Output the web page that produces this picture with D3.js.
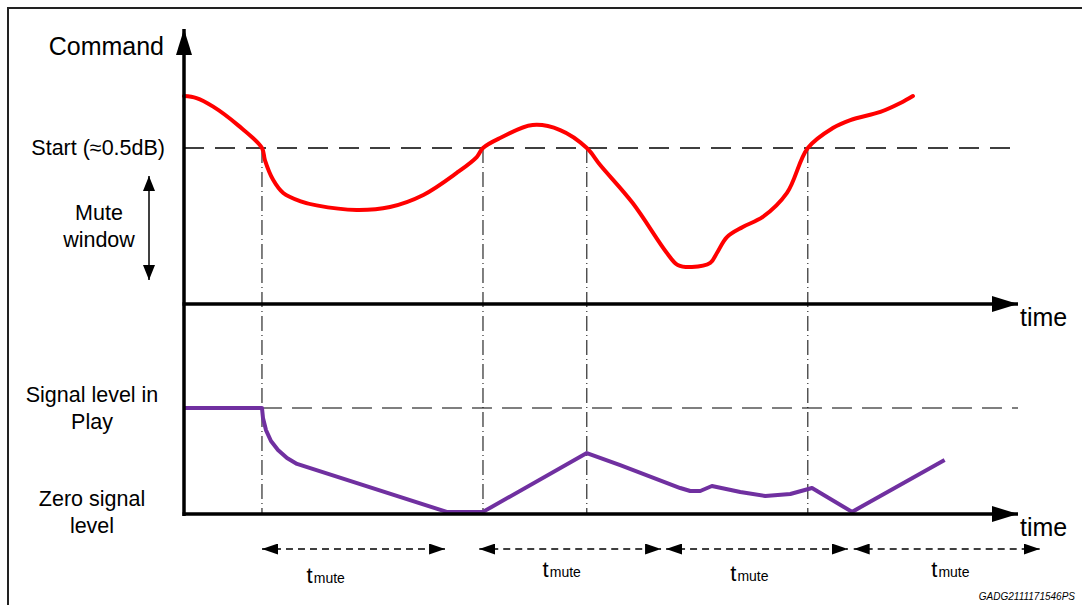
<!DOCTYPE html>
<html>
<head>
<meta charset="utf-8">
<script src="https://cdn.jsdelivr.net/npm/d3@7"></script>
<style>
  body { margin: 0; background: #fff; }
  svg text { font-family: "Liberation Sans", Arial, sans-serif; fill: #000; }
</style>
</head>
<body>
<svg class="timing" width="1082" height="605"></svg>
<script>
// command curve (red), time in % of axis, level relative to the start threshold
var cmdTime = [0, 1.5, 3.5, 6.5, 9.35, 9.7, 10.7, 11.9, 13.9, 15.9, 20.7, 24.7, 28.7, 32.7, 35.1, 35.85,
               37.9, 41.8, 45.1, 48.3, 49.9, 53.8, 57.9, 59.2, 60.9, 63.1, 63.9, 65.1, 67.0, 69.4, 72.3,
               74.8, 77.8, 79.9, 83.5, 85.9, 87.4];
var cmdLevel = [1.333, 1.32, 1.265, 1.145, 1.0, 0.923, 0.795, 0.712, 0.66, 0.632, 0.603, 0.622, 0.699, 0.84, 0.942, 1.0,
                1.064, 1.147, 1.115, 1.0, 0.891, 0.647, 0.327, 0.25, 0.237, 0.263, 0.327, 0.429, 0.494, 0.558, 0.712,
                1.0, 1.128, 1.179, 1.231, 1.288, 1.333];

// output signal (purple), 1 = play level, 0 = zero signal
var sigTime = [0, 9.35, 9.47, 9.83, 10.43, 11.27, 12.35, 13.55, 31.5, 35.85, 48.3, 52.3, 59.5, 60.7, 61.9, 63.3,
               66.7, 69.7, 72.7, 75.3, 80.1, 91.2];
var sigLevel = [1.0, 1.0, 0.906, 0.792, 0.689, 0.604, 0.528, 0.472, 0.02, 0.02, 0.575, 0.462, 0.245, 0.217, 0.217, 0.264,
                0.208, 0.17, 0.189, 0.245, 0.02, 0.509];

// instants where the command crosses the start threshold
var crossings = [9.35, 35.85, 48.3, 74.8];
// tmute windows
var muteStart = [9.35, 35.4, 57.8, 80.3];
var muteEnd = [31.3, 57.2, 79.6, 102.6];
var muteLabelX = [14.7, 43.0, 65.5, 89.6];
var muteLabelY = [-0.65, -0.59, -0.63, -0.59];

(function timingDiagram() {
    var svg = d3.select("svg.timing");

    var x = d3.scaleLinear().domain([0, 100]).range([184, 1018]);
    var yCmd = d3.scaleLinear().domain([0, 1]).range([304, 148]);
    var ySig = d3.scaleLinear().domain([0, 1]).range([514, 408]);

    // frame
    svg.append("path")
        .attr("d", "M8,605 V8 H1082")
        .attr("fill", "none")
        .attr("stroke", "#222")
        .attr("stroke-width", 2);

    var defs = svg.append("defs");
    function marker(id, w, h, color) {
        defs.append("marker")
            .attr("id", id)
            .attr("viewBox", "0 0 " + w + " " + h)
            .attr("refX", w).attr("refY", h / 2)
            .attr("markerWidth", w).attr("markerHeight", h)
            .attr("markerUnits", "userSpaceOnUse")
            .attr("orient", "auto-start-reverse")
            .append("path")
            .attr("d", "M0,0 L" + w + "," + (h / 2) + " L0," + h + "Z")
            .attr("fill", color);
    }
    marker("axisHead", 26, 16, "#000");
    marker("smallHead", 15, 12, "#000");
    marker("spanHead", 16, 11, "#000");

    // threshold lines
    svg.append("line")
        .attr("x1", x(0)).attr("x2", x(100))
        .attr("y1", yCmd(1)).attr("y2", yCmd(1))
        .attr("stroke", "#000").attr("stroke-width", 1.3)
        .attr("stroke-dasharray", "20,11");
    svg.append("line")
        .attr("x1", x(crossings[0])).attr("x2", x(100))
        .attr("y1", ySig(1)).attr("y2", ySig(1))
        .attr("stroke", "#000").attr("stroke-width", 1.2)
        .attr("stroke-dasharray", "20,10");

    // dash-dot verticals
    svg.selectAll(".cross")
        .data(crossings)
        .enter()
        .append("line")
        .attr("class", "cross")
        .attr("x1", function(d) { return x(d); })
        .attr("x2", function(d) { return x(d); })
        .attr("y1", yCmd(1))
        .attr("y2", ySig(0))
        .attr("stroke", "#000")
        .attr("stroke-width", 1)
        .attr("stroke-dasharray", "15,4,1,4");

    // curves
    var cmdLine = d3.line()
        .x(function(d, i) { return x(cmdTime[i]); })
        .y(function(d) { return yCmd(d); })
        .curve(d3.curveCatmullRom.alpha(0.5));
    svg.append("path")
        .attr("d", cmdLine(cmdLevel))
        .attr("fill", "none")
        .attr("stroke", "#ff0000")
        .attr("stroke-width", 4)
        .attr("stroke-linecap", "round");

    var sigLine = d3.line()
        .x(function(d, i) { return x(sigTime[i]); })
        .y(function(d) { return ySig(d); });
    svg.append("path")
        .attr("d", sigLine(sigLevel))
        .attr("fill", "none")
        .attr("stroke", "#7030a0")
        .attr("stroke-width", 4)
        .attr("stroke-linejoin", "round");

    // axes
    svg.append("line")
        .attr("x1", x(0)).attr("x2", x(0))
        .attr("y1", ySig(0) + 2).attr("y2", 29)
        .attr("stroke", "#000").attr("stroke-width", 3.5)
        .attr("marker-end", "url(#axisHead)");
    [yCmd(0), ySig(0)].forEach(function(yy) {
        svg.append("line")
            .attr("x1", x(0) - 1.5).attr("x2", x(100))
            .attr("y1", yy).attr("y2", yy)
            .attr("stroke", "#000").attr("stroke-width", 3.5)
            .attr("marker-end", "url(#axisHead)");
        svg.append("text")
            .attr("x", x(100) + 2)
            .attr("y", yy + 22)
            .style("font-size", "25px")
            .text("time");
    });

    svg.append("text")
        .attr("x", 164).attr("y", 55)
        .attr("text-anchor", "end")
        .style("font-size", "25px")
        .text("Command");

    svg.append("text")
        .attr("x", 165).attr("y", yCmd(1) + 7)
        .attr("text-anchor", "end")
        .style("font-size", "21.5px")
        .text("Start (\u22480.5dB)");

    // mute window arrow
    svg.append("line")
        .attr("x1", 149).attr("x2", 149)
        .attr("y1", 176).attr("y2", 280)
        .attr("stroke", "#000").attr("stroke-width", 1.5)
        .attr("marker-start", "url(#smallHead)")
        .attr("marker-end", "url(#smallHead)");

    function block(lines, cx, baseline) {
        var t = svg.append("text")
            .attr("text-anchor", "middle")
            .style("font-size", "21.5px");
        lines.forEach(function(s, i) {
            t.append("tspan")
                .attr("x", cx)
                .attr("y", baseline + i * 26.5)
                .text(s);
        });
    }
    block(["Mute", "window"], 99, 220);
    block(["Signal level in", "Play"], 92, 402);
    block(["Zero signal", "level"], 92, 506);

    // tmute spans
    var spanY = 549;
    svg.selectAll(".span")
        .data(muteStart)
        .enter()
        .append("line")
        .attr("class", "span")
        .attr("x1", function(d) { return x(d); })
        .attr("x2", function(d, i) { return x(muteEnd[i]); })
        .attr("y1", spanY).attr("y2", spanY)
        .attr("stroke", "#000").attr("stroke-width", 1.3)
        .attr("stroke-dasharray", "7,5")
        .attr("marker-start", "url(#spanHead)")
        .attr("marker-end", "url(#spanHead)");

    var labels = svg.selectAll(".tmute")
        .data(muteLabelX)
        .enter()
        .append("text")
        .attr("class", "tmute")
        .attr("x", function(d) { return x(d); })
        .attr("y", function(d, i) { return ySig(muteLabelY[i]); });
    labels.append("tspan").style("font-size", "22px").text("t");
    labels.append("tspan").style("font-size", "14px").attr("dx", 1).text("mute");

    svg.append("text")
        .attr("x", 1075).attr("y", 600)
        .attr("text-anchor", "end")
        .style("font-size", "10px")
        .style("font-style", "italic")
        .text("GADG2111171546PS");
})();
</script>
</body>
</html>
